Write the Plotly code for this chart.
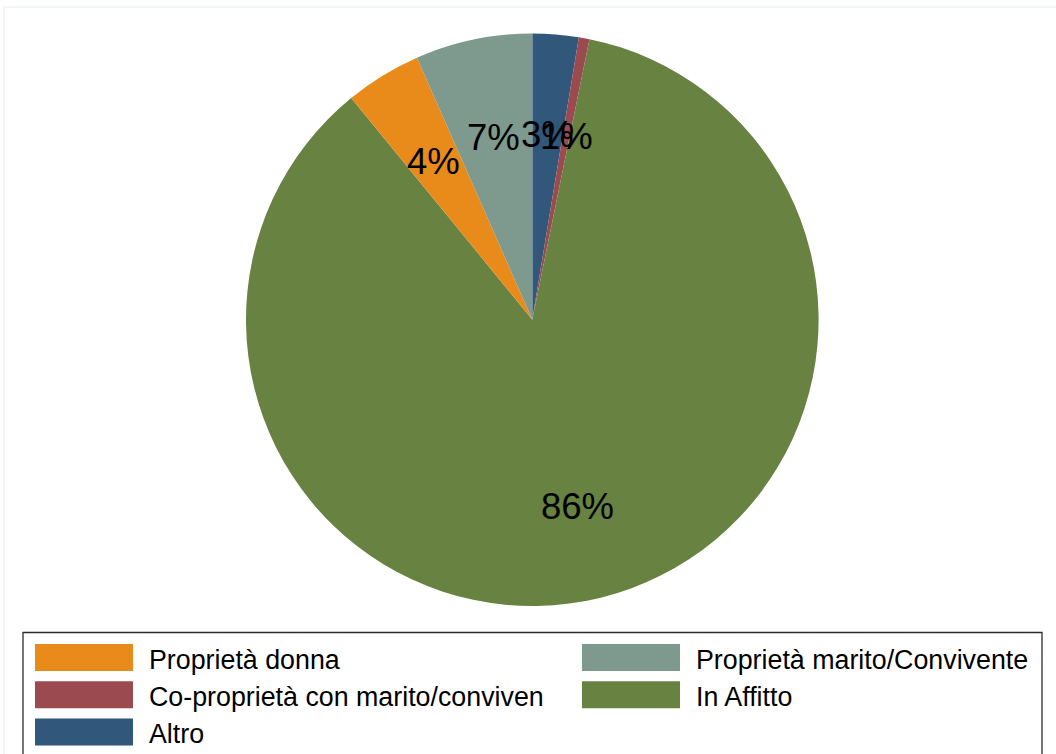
import math
import plotly.graph_objects as go

# Categories (legend order) and their shares in percent
categories = [
    "Proprietà donna",
    "Proprietà marito/Convivente",
    "Co-proprietà con marito/conviven",
    "In Affitto",
    "Altro",
]
shares = [4.3, 6.6, 0.6, 85.9, 2.6]
colors = ["#E88B1B", "#7E9A8F", "#9B4A50", "#678241", "#31577A"]

# Order of the slices going clockwise from 12 o'clock
slice_order = [4, 2, 3, 0, 1]

W, H = 1056, 754
FONT = "Liberation Sans, Arial, sans-serif"

# Pie geometry in pixels
CX, CY, R = 532.3, 319.7, 286.3
LABEL_R = 0.66 * R


def px(x):
    return x / W


def py(y):
    return 1 - y / H


pie_labels = [categories[i] for i in slice_order]
pie_values = [shares[i] for i in slice_order]
pie_colors = [colors[i] for i in slice_order]

fig = go.Figure(
    go.Pie(
        labels=pie_labels,
        values=pie_values,
        marker=dict(colors=pie_colors, line=dict(width=0)),
        sort=False,
        direction="clockwise",
        rotation=0,
        textinfo="none",
        showlegend=False,
        domain=dict(x=[px(CX - R), px(CX + R)], y=[py(CY + R), py(CY - R)]),
    )
)

annotations = []
shapes = []

# Percentage labels placed along each slice's bisector
total = sum(pie_values)
cum = 0.0
for v in pie_values:
    mid = (cum + v / 2) / total * 2 * math.pi
    cum += v
    x = CX + LABEL_R * math.sin(mid)
    y = CY - LABEL_R * math.cos(mid) + 3
    annotations.append(
        dict(
            x=px(x), y=py(y), xref="paper", yref="paper",
            text=f"{round(v)}%", showarrow=False,
            xanchor="center", yanchor="middle",
            font=dict(family=FONT, size=36.5, color="black"),
        )
    )

# Faint outer frame of the graph region
shapes.append(
    dict(type="rect", xref="paper", yref="paper",
         x0=px(4), x1=px(W + 10), y0=py(H + 10), y1=py(7),
         line=dict(color="#E6ECEC", width=1), fillcolor="rgba(0,0,0,0)")
)

# Legend box
shapes.append(
    dict(type="rect", xref="paper", yref="paper",
         x0=px(23), x1=px(1042), y0=py(H + 10), y1=py(632.5),
         line=dict(color="#2B2B2B", width=1.3), fillcolor="rgba(0,0,0,0)")
)

# Legend entries: two columns, filled row by row
col_x = [35, 582]
row_y0 = 644
row_step = 37.3
sw_w, sw_h = 98, 27
for i, (name, col) in enumerate(zip(categories, colors)):
    c, r = i % 2, i // 2
    x0 = col_x[c]
    y0 = row_y0 + r * row_step
    shapes.append(
        dict(type="rect", xref="paper", yref="paper",
             x0=px(x0), x1=px(x0 + sw_w), y0=py(y0 + sw_h), y1=py(y0),
             line=dict(width=0), fillcolor=col)
    )
    annotations.append(
        dict(x=px(x0 + sw_w + 13.5), y=py(y0 + sw_h / 2 + 2), xref="paper", yref="paper",
             text=name, showarrow=False, xanchor="left", yanchor="middle",
             font=dict(family=FONT, size=26.8, color="black"))
    )

fig.update_layout(
    width=W, height=H,
    margin=dict(l=0, r=0, t=0, b=0),
    paper_bgcolor="white",
    plot_bgcolor="white",
    annotations=annotations,
    shapes=shapes,
    showlegend=False,
)

fig.write_html("out.html")
